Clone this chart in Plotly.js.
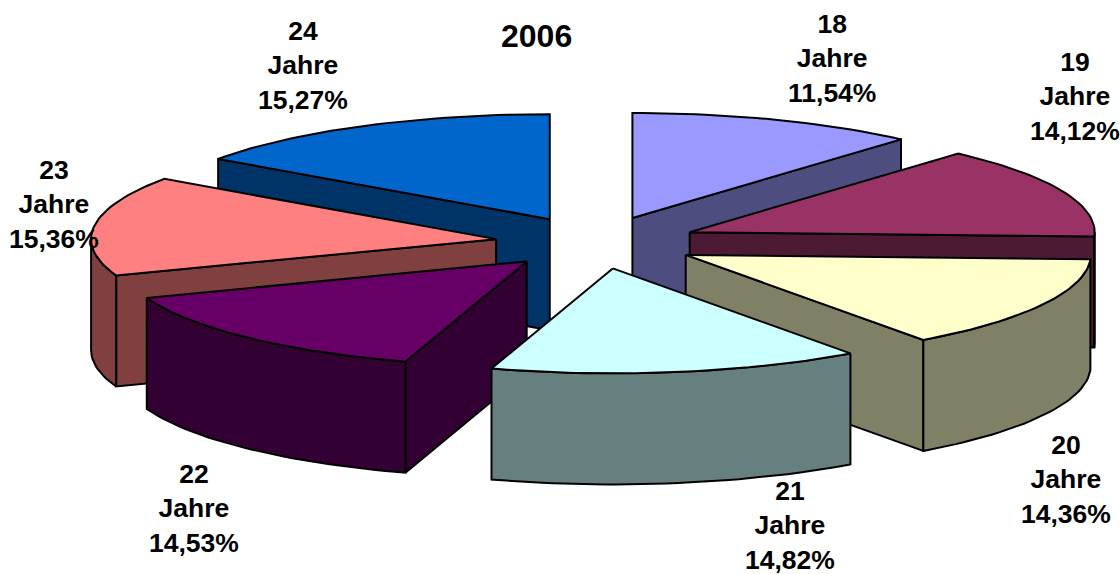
<!DOCTYPE html>
<html>
<head>
<meta charset="utf-8">
<script src="https://cdn.plot.ly/plotly-3.0.1.min.js"></script>
<style>html,body{margin:0;padding:0;background:#fff;overflow:hidden}#chart{width:1120px;height:574px}</style>
</head>
<body>
<div id="chart"></div>
<script>
// Data
const ages = ["18", "19", "20", "21", "22", "23", "24"];
const shares = [11.54, 14.12, 14.36, 14.82, 14.53, 15.36, 15.27];
const topColors = ["#9999ff", "#993366", "#ffffcc", "#ccffff", "#660066", "#ff8080", "#0066cc"];
const sideColors = ["#4d4d80", "#4d1a33", "#808066", "#668080", "#330033", "#804040", "#003366"];
const drawOrder = [0, 6, 5, 4, 1, 2, 3];
const subtitle = "2006";
const labelCentres = [[832, 58.5], [1075, 96.5], [1066, 479.5], [790, 525], [194, 508], [54, 204.5], [303, 65.5]];

// Projection of the tilted pie
const cx = 596.5, cy = 242.5, rx = 405, ry = 105, explode = 0.25, depth = 111;
const total = shares.reduce((a, b) => a + b, 0);
const rad = d => d * Math.PI / 180;

const edges = [0];
shares.forEach(v => edges.push(edges[edges.length - 1] + v / total * 360));

const traces = [];
function poly(pts, fill) {
  const xs = pts.map(p => p[0]); const ys = pts.map(p => p[1]);
  xs.push(xs[0]); ys.push(ys[0]);
  traces.push({
    type: "scatter", mode: "lines", x: xs, y: ys, fill: "toself", fillcolor: fill,
    line: { color: "#000", width: 2, shape: "linear" }, hoverinfo: "skip", showlegend: false
  });
}
function arc(ax, ay, a, b, dz) {
  const out = [];
  const n = Math.max(2, Math.ceil((b - a) / 1.5));
  for (let i = 0; i <= n; i++) {
    const t = rad(a + (b - a) * i / n);
    out.push([ax + rx * Math.sin(t), ay - ry * Math.cos(t) + dz]);
  }
  return out;
}
drawOrder.forEach(i => {
  const a = edges[i], b = edges[i + 1], mid = rad((a + b) / 2);
  const ax = cx + explode * rx * Math.sin(mid);
  const ay = cy - explode * ry * Math.cos(mid);
  const corner = t => [ax + rx * Math.sin(rad(t)), ay - ry * Math.cos(rad(t))];
  const down = p => [p[0], p[1] + depth];
  // walls that face the viewer
  if (Math.sin(rad(a)) < -1e-2) {
    const c = corner(a);
    poly([[ax, ay], c, down(c), [ax, ay + depth]], sideColors[i]);
  }
  if (Math.sin(rad(b)) > 1e-2) {
    const c = corner(b);
    poly([[ax, ay], c, down(c), [ax, ay + depth]], sideColors[i]);
  }
  const fa = Math.max(a, 90), fb = Math.min(b, 270);
  if (fb > fa) {
    poly(arc(ax, ay, fa, fb, 0).concat(arc(ax, ay, fa, fb, depth).reverse()), sideColors[i]);
  }
  poly([[ax, ay]].concat(arc(ax, ay, a, b, 0)), topColors[i]);
});

const font = { family: "Liberation Sans, Arial, sans-serif", color: "#000" };
const annotations = ages.map((age, i) => ({
  xref: "x", yref: "y", x: labelCentres[i][0], y: labelCentres[i][1],
  text: "<b>" + age + "<br>Jahre<br>" + shares[i].toFixed(2).replace(".", ",") + "%</b>",
  showarrow: false, xanchor: "center", yanchor: "middle", align: "center",
  font: Object.assign({ size: 26.5 }, font)
}));
annotations.push({
  xref: "x", yref: "y", x: 536, y: 36, text: "<b>" + subtitle + "</b>",
  showarrow: false, xanchor: "center", yanchor: "middle",
  font: Object.assign({ size: 32 }, font)
});

Plotly.newPlot("chart", traces, {
  width: 1120, height: 574, margin: { l: 0, r: 0, t: 0, b: 0 },
  paper_bgcolor: "#fff", plot_bgcolor: "#fff", showlegend: false,
  xaxis: { range: [0, 1120], visible: false, fixedrange: true },
  yaxis: { range: [574, 0], visible: false, fixedrange: true },
  annotations: annotations
}, { displayModeBar: false, staticPlot: true });
</script>
</body>
</html>
